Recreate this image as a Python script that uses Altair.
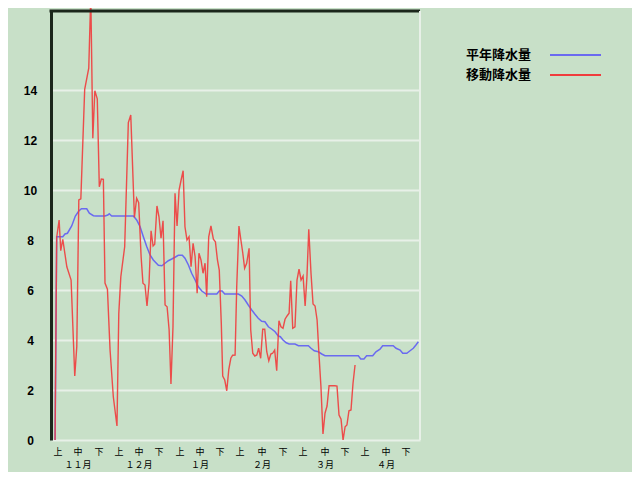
import altair as alt
import pandas as pd

# 移動降水量 (red): day index from 1 Nov, value
red_day = [0, 0.8, 2.0, 2.8, 3.8, 5.8, 7.9, 9.7, 10.7, 11.7, 12.7, 14.6, 16.6, 17.6, 18.6, 19.6,
           20.8, 21.8, 22.8, 23.8, 24.6, 25.8, 27.1, 28.7, 30.5, 31.4, 32.4, 34.3, 36.1, 37.3,
           39.1, 40.2, 41.2, 42.4, 43.3, 44.3, 45.3, 46.3, 47.3, 48.3, 49.1, 50.2, 51.2, 52.2,
           53.2, 54.2, 55.2, 56.2, 57.1, 58.1, 59.1, 60.1, 61.1, 62.1, 63.1, 64.0, 65.0, 66.0,
           67.0, 68.0, 69.0, 70.0, 70.9, 71.9, 72.9, 73.9, 74.7, 75.7, 76.8, 78.0, 79.0, 80.0,
           80.9, 81.9, 82.6, 83.6, 84.6, 85.6, 86.6, 87.5, 88.7, 89.5, 90.6, 91.5, 92.5, 93.4,
           94.4, 95.6, 96.4, 97.4, 98.4, 99.4, 100.3, 101.3, 102.3, 103.3, 104.3, 105.3, 106.3,
           107.2, 108.2, 109.2, 110.3, 111.3, 112.3, 113.3, 114.3, 115.3, 116.1, 117.1, 118.2,
           119.2, 120.2, 121.2, 122.2, 123.2, 124.1, 125.0, 126.1, 127.1, 128.1, 129.1, 130.0,
           131.0, 132.0, 133.0, 134.0, 135.0, 136.0, 137.0, 137.9, 138.9, 139.9, 140.9, 141.9,
           142.9, 143.8, 144.8, 145.8, 146.8, 147.8]
red_val = [0, 8.1, 8.8, 7.57, 8.03, 6.93, 6.4, 2.56, 3.73, 9.6, 9.65, 14.03, 14.87, 17.8, 12.07, 13.97,
           13.65, 10.13, 10.44, 10.43, 6.28, 6.03, 3.6, 1.73, 0.56, 5.07, 6.53, 7.73, 12.7, 13.0,
           8.9, 9.67, 9.49, 7.33, 6.27, 6.2, 5.36, 6.27, 8.37, 7.76, 7.83, 9.36, 8.93, 8.07,
           8.77, 5.4, 5.33, 4.4, 2.24, 4.53, 9.87, 8.56, 10.0, 10.4, 10.77, 8.53, 8.0, 8.13,
           6.93, 7.87, 7.33, 5.87, 7.47, 7.2, 6.67, 7.07, 5.73, 8.13, 8.56, 8.03, 7.93, 7.2,
           6.8, 4.67, 2.56, 2.4, 1.97, 2.83, 3.27, 3.39, 3.4, 6.13, 8.56, 8.03, 7.47, 6.87,
           7.07, 7.67, 4.4, 3.47, 3.36, 3.4, 3.67, 3.27, 4.43, 4.43, 3.53, 3.17, 3.44,
           3.47, 3.6, 2.77, 4.77, 4.53, 4.47, 4.83, 4.96, 5.07, 6.37, 4.47, 4.53,
           6.4, 6.83, 6.4, 6.56, 5.36, 6.53, 8.43, 6.67, 5.44, 5.36, 4.8, 3.47,
           2.13, 0.24, 1.07, 1.36, 2.17, 2.17, 2.17, 2.17, 2.16, 1.0, 0.83, 0,
           0.53, 0.6, 1.17, 1.2, 2.27, 3.0]

# 平年降水量 (blue)
blue_day = [0, 0.8, 3.8, 4.9, 6.1, 8.2, 10.0, 11.7, 13.0, 15.6, 16.9, 18.9, 20.2, 24.6, 26.0, 26.7,
            27.9, 38.6, 40.2, 41.9, 43.5, 45.2, 46.8, 48.4, 50.9, 52.6, 54.2, 55.8, 57.5, 59.1,
            60.7, 62.7, 64.0, 65.7, 67.3, 69.0, 70.6, 72.3, 74.4, 79.7, 80.9, 82.3, 83.6, 90.3,
            92.0, 93.6, 95.2, 96.9, 98.5, 100.1, 101.8, 103.4, 105.1, 106.7, 108.4, 110.0, 111.0,
            112.3, 113.9, 115.3, 118.2, 119.9, 124.8, 126.1, 127.7, 129.7, 131.4, 133.0, 149.4,
            150.6, 152.2, 153.5, 156.5, 158.1, 160.1, 161.4, 166.6, 168.0, 170.0, 171.3, 173.3,
            174.9, 176.5, 177.8, 179.0]
blue_val = [0, 8.13, 8.13, 8.24, 8.27, 8.56, 8.96, 9.16, 9.25, 9.25, 9.07, 8.97, 8.96, 8.96, 9.0, 9.05,
            8.96, 8.96, 8.8, 8.53, 8.13, 7.73, 7.4, 7.2, 6.99, 6.97, 7.07, 7.17, 7.24, 7.31,
            7.39, 7.39, 7.27, 7.0, 6.67, 6.4, 6.13, 5.96, 5.84, 5.84, 5.96, 5.96, 5.84, 5.84,
            5.76, 5.6, 5.4, 5.2, 5.03, 4.87, 4.75, 4.73, 4.53, 4.44, 4.33, 4.16, 4.13,
            4.0, 3.89, 3.84, 3.84, 3.77, 3.77, 3.67, 3.57, 3.53, 3.44, 3.37, 3.37,
            3.24, 3.24, 3.37, 3.37, 3.53, 3.63, 3.77, 3.77, 3.67, 3.6, 3.47, 3.47,
            3.57, 3.67, 3.8, 3.93]

dekad_labels = ["上", "中", "下"] * 6
dekad_pos = [1.5, 11.3, 21.7, 31.5, 41.4, 51.2, 61.6, 71.4, 81.3, 91.1, 102.0, 112.3,
             122.2, 133.0, 142.9, 152.7, 163.1, 172.9]
month_labels = ["１１月", "１２月", "１月", "２月", "３月", "４月"]
month_pos = [11.3, 41.4, 71.4, 102.0, 133.0, 163.1]
y_ticks = [0, 2, 4, 6, 8, 10, 12, 14]

series_names = ["平年降水量", "移動降水量"]
series_colors = ["#6a6af0", "#f03c3c"]

W, H = 369, 429
BG = "#c8e0c8"
CJK = "Noto Sans CJK JP"

xscale = alt.Scale(domain=[-2.0, 179.8], nice=False, zero=False)
yscale = alt.Scale(domain=[0, 17.16], nice=False, zero=True)

df_blue = pd.DataFrame({"day": blue_day, "value": blue_val})
df_red = pd.DataFrame({"day": red_day, "value": red_val})

yaxis = alt.Axis(values=y_ticks, title=None, grid=True, gridColor="#e8f0e8", gridWidth=2,
                 domainColor="#1b261b", domainWidth=3, ticks=False, tickSize=0,
                 labelPadding=21, labelAlign="center", labelBaseline="middle",
                 labelFont="Liberation Sans", labelFontWeight="bold", labelFontSize=12,
                 labelColor="#000000")

blue = alt.Chart(df_blue).mark_line(color=series_colors[0], strokeWidth=1.5).encode(
    x=alt.X("day:Q", scale=xscale, axis=None),
    y=alt.Y("value:Q", scale=yscale, axis=yaxis),
)
red = alt.Chart(df_red).mark_line(color=series_colors[1], strokeWidth=1.4, opacity=0.9).encode(
    x=alt.X("day:Q", scale=xscale, axis=None),
    y=alt.Y("value:Q", scale=yscale, axis=yaxis),
)

one = pd.DataFrame({"k": [0]})
top_border = alt.Chart(one).mark_rule(color="#1b261b", strokeWidth=3).encode(
    x=alt.value(-1.5), x2=alt.value(W), y=alt.value(0))
right_border = alt.Chart(one).mark_rule(color="#e8f0e8", strokeWidth=2).encode(
    x=alt.value(W), y=alt.value(0), y2=alt.value(H))

df_dek = pd.DataFrame({"pos": dekad_pos, "label": dekad_labels})
dek_text = alt.Chart(df_dek).mark_text(font=CJK, fontSize=9, color="#000000", baseline="middle",
                                       align="center").encode(
    x=alt.X("pos:Q", scale=xscale, axis=None), y=alt.value(H + 12), text="label:N")
df_mon = pd.DataFrame({"pos": month_pos, "label": month_labels})
mon_text = alt.Chart(df_mon).mark_text(font=CJK, fontSize=9, color="#000000", baseline="middle",
                                       align="center").encode(
    x=alt.X("pos:Q", scale=xscale, axis=None), y=alt.value(H + 25), text="label:N")

legend_layers = []
for i, (name, col) in enumerate(zip(series_names, series_colors)):
    ly = 44 + 20 * i
    dfl = pd.DataFrame({"name": [name]})
    legend_layers.append(alt.Chart(dfl).mark_text(font=CJK, fontSize=13, fontWeight="bold",
                                                  color="#000000", align="left",
                                                  baseline="middle").encode(
        x=alt.value(415), y=alt.value(ly), text="name:N"))
    legend_layers.append(alt.Chart(dfl).mark_rule(color=col, strokeWidth=2).encode(
        x=alt.value(499), x2=alt.value(550), y=alt.value(ly)))

chart = alt.layer(blue, red, top_border, right_border, dek_text, mon_text, *legend_layers).properties(
    width=W, height=H, background=BG,
    autosize=alt.AutoSizeParams(type="none"),
    padding={"left": 43, "top": 3, "right": 212, "bottom": 32},
).configure_view(stroke=None, fill=BG)

chart.save("out.html", embed_options={"renderer": "svg", "actions": False})
